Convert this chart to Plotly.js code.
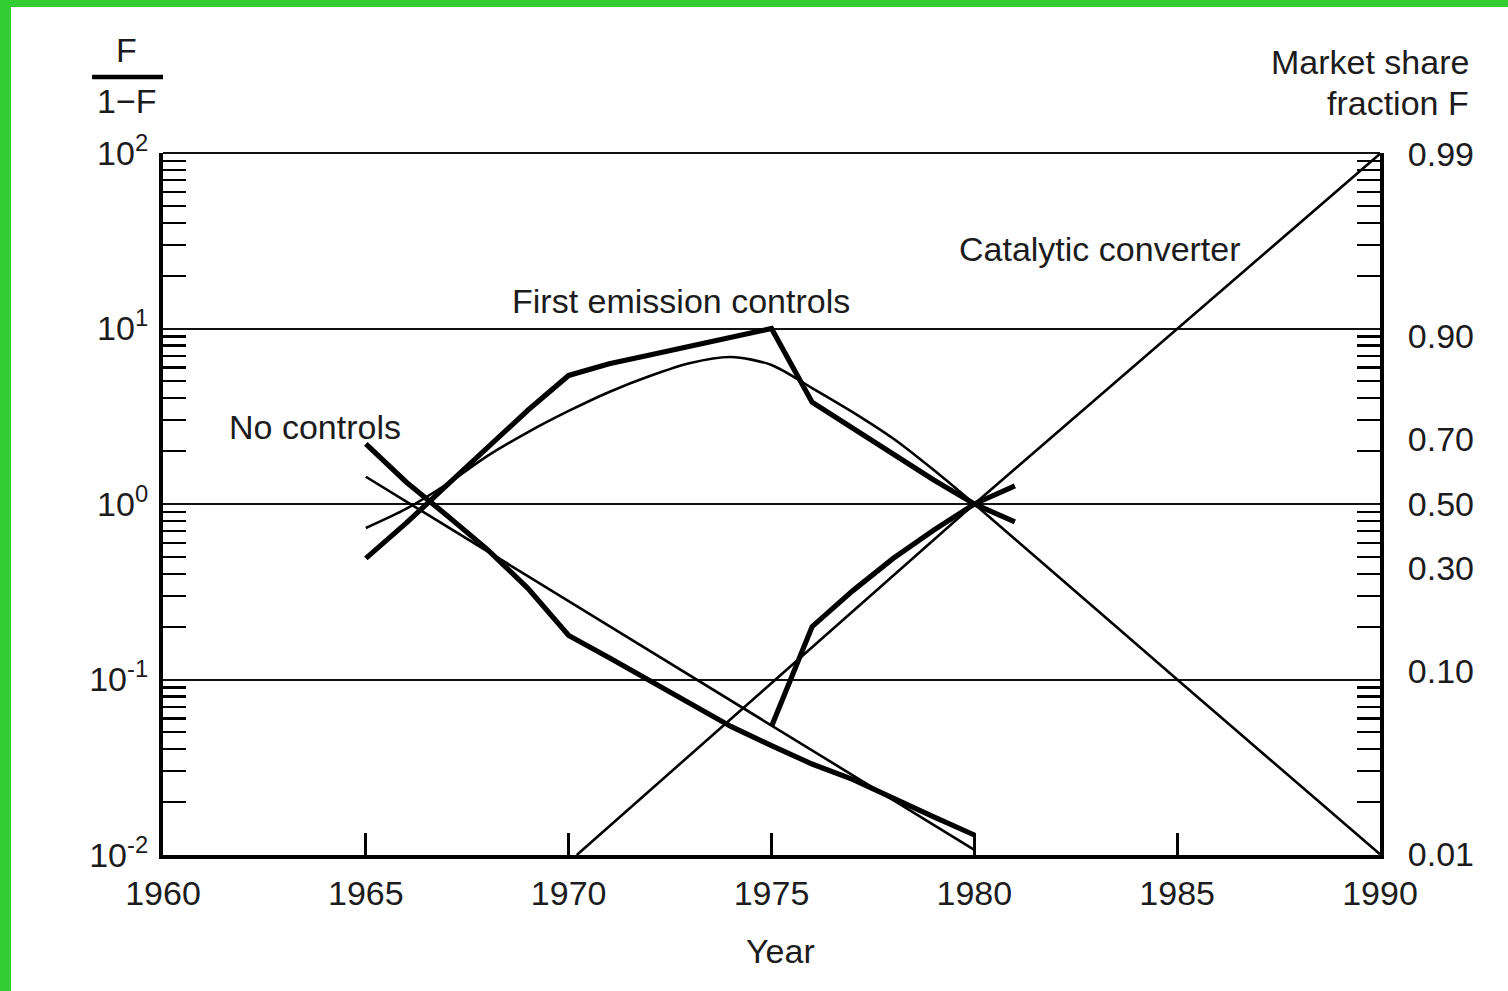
<!DOCTYPE html>
<html>
<head>
<meta charset="utf-8">
<script src="https://cdn.plot.ly/plotly-3.0.1.min.js"></script>
<style>
  html, body { margin: 0; padding: 0; background: #33cc33; width: 1508px; height: 991px; overflow: hidden; }
  #chart { position: absolute; left: 11px; top: 7px; width: 1497px; height: 984px; background: #fff; }
</style>
</head>
<body>
<div id="chart"></div>
<script>
// Observed ratio F/(1-F) by year (thick lines)
const noControlsYears = [1965, 1966, 1967, 1968, 1969, 1970, 1971, 1972, 1973, 1974, 1975, 1976, 1977, 1978, 1979, 1980];
const noControlsObs   = [2.2, 1.33, 0.86, 0.55, 0.33, 0.178, 0.133, 0.098, 0.073, 0.054, 0.042, 0.033, 0.027, 0.021, 0.0165, 0.013];

const firstEmissionYears = [1965, 1966, 1967, 1968, 1969, 1970, 1971, 1972, 1973, 1974, 1975, 1976, 1977, 1978, 1979, 1980, 1981];
const firstEmissionObs   = [0.49, 0.78, 1.28, 2.08, 3.43, 5.4, 6.3, 7.07, 7.94, 8.93, 10.0, 3.8, 2.71, 1.94, 1.37, 1.0, 0.79];

const catalyticYears = [1975, 1976, 1977, 1978, 1979, 1980, 1981];
const catalyticObs   = [0.054, 0.2, 0.32, 0.49, 0.71, 1.0, 1.27];

// Fitted substitution paths (thin lines)
const noControlsFitYears = [1965, 1980];
const noControlsFit      = [1.43, 0.0107];

const firstEmissionFitYears = [1965, 1966, 1967, 1968, 1969, 1970, 1971, 1972, 1973, 1974, 1975, 1976, 1977, 1978, 1979, 1980, 1985, 1990];
const firstEmissionFit      = [0.73, 0.94, 1.30, 1.88, 2.57, 3.39, 4.35, 5.36, 6.36, 6.88, 6.2, 4.58, 3.34, 2.36, 1.56, 1.0, 0.1, 0.0101];

const catalyticFitYears = [1970.2, 1980, 1990];
const catalyticFit      = [0.01, 1.0, 99];

// Axis labels
const xTicks = [1960, 1965, 1970, 1975, 1980, 1985, 1990];
const leftTickVals = [0.01, 0.1, 1, 10, 100];
const leftTickText = ['10<sup>-2</sup>', '10<sup>-1</sup>', '10<sup>0</sup>', '10<sup>1</sup>', '10<sup>2</sup>'];
const shareTicks = [0.01, 0.10, 0.30, 0.50, 0.70, 0.90, 0.99];

const FONT = 'Liberation Sans, Arial, sans-serif';
const INK = '#1c1c1c';
const SIZE = 34;
const textFont = { family: FONT, size: SIZE, color: INK };

// decade subdivisions 2..9 for the inner tick marks
const minorVals = [];
for (let k = -2; k < 2; k++) {
  for (let d = 2; d <= 9; d++) minorVals.push(d * Math.pow(10, k));
}

const thin = { color: '#000', width: 2.6 };
const thick = { color: '#000', width: 5.2 };

const traces = [
  { x: noControlsFitYears, y: noControlsFit, mode: 'lines', line: thin, name: 'No controls (fit)' },
  { x: firstEmissionFitYears, y: firstEmissionFit, mode: 'lines', line: Object.assign({ shape: 'spline', smoothing: 0.8 }, thin), name: 'First emission controls (fit)' },
  { x: catalyticFitYears, y: catalyticFit, mode: 'lines', line: thin, name: 'Catalytic converter (fit)' },
  { x: noControlsYears, y: noControlsObs, mode: 'lines', line: thick, name: 'No controls' },
  { x: firstEmissionYears, y: firstEmissionObs, mode: 'lines', line: thick, name: 'First emission controls' },
  { x: catalyticYears, y: catalyticObs, mode: 'lines', line: thick, name: 'Catalytic converter' },
  { x: [], y: [], yaxis: 'y2', mode: 'lines', showlegend: false, hoverinfo: 'skip' }
];

const minorTicks = {
  tickmode: 'array', tickvals: minorVals, ticks: 'inside', ticklen: 23,
  tickwidth: 2.2, tickcolor: '#000', showgrid: false
};

function note(text, x, y, xanchor) {
  return { text: text, xref: 'paper', yref: 'paper', x: x, y: y,
           xanchor: xanchor || 'center', yanchor: 'middle', showarrow: false, font: textFont };
}

const layout = {
  width: 1497, height: 984,
  margin: { l: 152, r: 128, t: 146, b: 136 },
  paper_bgcolor: '#fff', plot_bgcolor: '#fff',
  showlegend: false,
  font: textFont,
  xaxis: {
    range: [1960, 1990], tickmode: 'array', tickvals: xTicks,
    ticks: 'inside', ticklen: 22, tickwidth: 3, tickcolor: '#000',
    showline: true, linewidth: 4, linecolor: '#000',
    showgrid: false, zeroline: false,
    tickfont: textFont,
    ticklabelstandoff: 5
  },
  yaxis: {
    type: 'log', range: [-2, 2],
    tickmode: 'array', tickvals: leftTickVals, ticktext: leftTickText,
    ticks: '', showgrid: true, gridcolor: '#111', gridwidth: 2,
    showline: true, linewidth: 4, linecolor: '#000', zeroline: false,
    tickfont: textFont,
    ticklabelstandoff: 4,
    minor: minorTicks
  },
  yaxis2: {
    type: 'log', range: [-2, 2], overlaying: 'y', side: 'right',
    tickmode: 'array',
    tickvals: shareTicks.map(f => f / (1 - f)),
    ticktext: shareTicks.map(f => f.toFixed(2)),
    ticks: '', showgrid: false,
    showline: true, linewidth: 4, linecolor: '#000', zeroline: false,
    tickfont: textFont,
    ticklabelstandoff: 17,
    minor: minorTicks
  },
  shapes: [
    // thin frame line along the top of the plot
    { type: 'line', xref: 'paper', yref: 'paper', x0: 0, x1: 1, y0: 1, y1: 1, line: { color: '#111', width: 2 } },
    // fraction bar of the left axis title
    { type: 'line', xref: 'paper', yref: 'paper', x0: -0.0583, x1: 0.0, y0: 1.1083, y1: 1.1083, line: { color: '#000', width: 4.5 } }
  ],
  annotations: [
    note('F', -0.0296, 1.147),
    note('1\u2212F', -0.0296, 1.074),
    note('Market share', 1.0748, 1.1296, 'right'),
    note('fraction F', 1.0748, 1.0712, 'right'),
    note('Year', 0.5078, -0.1368),
    note('No controls', 0.1249, 0.6097),
    note('First emission controls', 0.4256, 0.7892),
    note('Catalytic converter', 0.7699, 0.8633)
  ]
};

Plotly.newPlot('chart', traces, layout, { staticPlot: true, displayModeBar: false });
</script>
</body>
</html>
